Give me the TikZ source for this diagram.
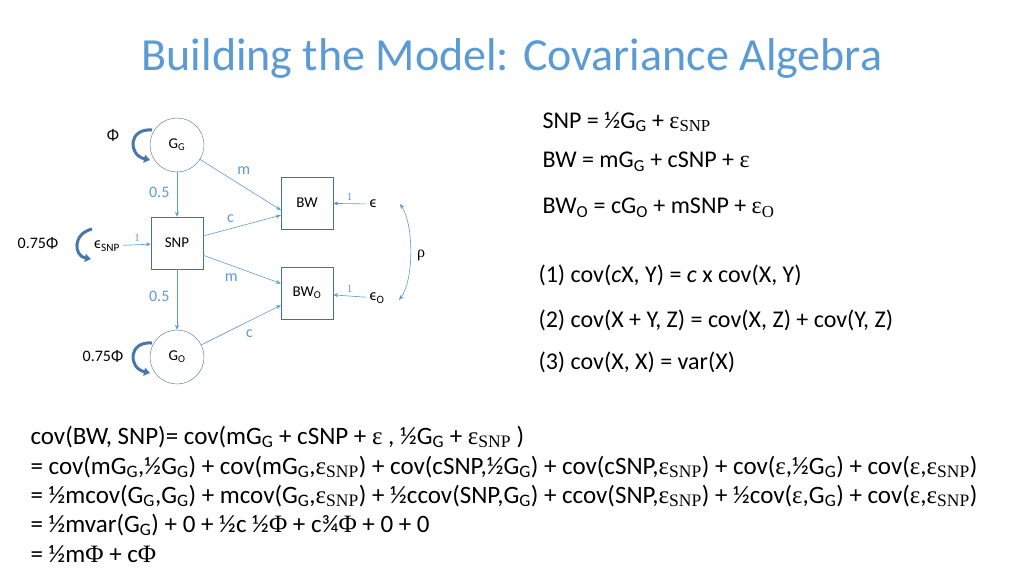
\documentclass[tikz,border=0pt]{standalone}
\usepackage{fontspec}
\setmainfont{Carlito}
\newfontfamily\symb{Liberation Serif}
\usetikzlibrary{arrows.meta,positioning}
\definecolor{titleblue}{HTML}{5B9BD5}
\definecolor{edgeblue}{HTML}{41719C}
\newcommand{\sbs}[1]{\textsubscript{#1}}
\newcommand{\eps}{{\symb ε}}
\newcommand{\phis}{{\symb Φ}}
\newcommand{\epsub}[1]{{\symb ε\textsubscript{#1}}}

\begin{document}
\begin{tikzpicture}[
    x=1pt, y=-1pt,
    latent/.style={circle, draw=edgeblue, minimum size=54pt, inner sep=0pt, font=\fontsize{15}{18}\selectfont},
    observed/.style={draw=edgeblue, minimum size=52pt, inner sep=0pt, font=\fontsize{15}{18}\selectfont},
    lbl/.style={font=\fontsize{16}{18}\selectfont},
    one/.style={font=\fontsize{11}{12}\selectfont\symb},
    patharrow/.style={-{Stealth[length=5pt,width=4pt]}, titleblue, line width=0.6pt},
    varloop/.style={-{Triangle[length=6pt,width=8pt]}, edgeblue!80!titleblue, line width=3pt},
    eqn/.style={anchor=west, font=\fontsize{24}{28}\selectfont},
    line/.style={anchor=west, font=\fontsize{25}{28}\selectfont},
]
    \useasboundingbox (0,0) rectangle (1024,576);
    % Title
    \node[font=\fontsize{46}{52}\selectfont, text=titleblue] (title) at (512,58) {Building the Model: Covariance Algebra};

    % Path diagram
    \node[latent] (gg) at (177,145) {G\sbs{G}};
    \node[observed] (snp) at (177,243) {SNP};
    \node[latent] (go) at (177,357) {G\sbs{O}};
    \node[observed] (bw) at (307,203) {BW};
    \node[observed] (bwo) at (307,293) {BW\sbs{O}};
    \node[lbl] (e) at (373,204) {ϵ};
    \node[lbl] (eo) at (377,298) {ϵ\sbs{O}};
    \node[lbl] (esnp) at (107,246) {ϵ\sbs{SNP}};
    \node[lbl] (rho) at (421,255) {\symb ρ};
    \node[lbl] (phigg) at (113,135) {Φ};
    \node[lbl] (phisnp) at (38,243) {0.75Φ};
    \node[lbl] (phigo) at (103,356) {0.75Φ};

    \draw[patharrow] (gg) -- node[lbl, left=4pt, pos=0.45] {0.5} (snp);
    \draw[patharrow] (snp) -- node[lbl, left=4pt, pos=0.45] {0.5} (go);
    \draw[patharrow] (gg) -- node[lbl, above right=2pt, pos=0.4] {m} (bw.195);
    \draw[patharrow] (snp.15) -- node[lbl, above left=1pt, pos=0.45] {c} (bw.205);
    \draw[patharrow] (snp.-25) -- node[lbl, below left=1pt, pos=0.5] {m} (bwo.160);
    \draw[patharrow] (go) -- node[lbl, below right=2pt, pos=0.5] {c} (bwo.205);
    \draw[patharrow] (e) -- node[one, above] {1} (bw);
    \draw[patharrow] (eo) -- node[one, above] {1} (bwo);
    \draw[patharrow] (esnp) -- node[one, above] {1} (snp);
    \draw[{Stealth[length=5pt,width=4pt]}-{Stealth[length=5pt,width=4pt]}, titleblue, line width=0.6pt]
        (e.east) ++(20,0) coordinate (rtop) .. controls (414,225) and (414,280) .. (399,300) coordinate (rbot);

    % Variance loops
    \draw[varloop] (152,130) .. controls (128,128) and (128,155) .. (150,160);
    \draw[varloop] (92,229) .. controls (72,234) and (74,256) .. (91,259);
    \draw[varloop] (152,343) .. controls (128,341) and (128,368) .. (150,373);

    % Model equations
    \node[eqn] (eq1) at (539,122) {SNP = ½G\sbs{G} + \epsub{SNP}};
    \node[eqn] (eq2) at (539,162) {BW = mG\sbs{G} + cSNP + \eps};
    \node[eqn] (eq3) at (539,208) {BW\sbs{O} = cG\sbs{O} + mSNP + \epsub{O}};
    \node[eqn] (r1) at (535,275) {(1) cov(\textit{c}X, Y) = \textit{c} x cov(X, Y)};
    \node[eqn] (r2) at (535,320) {(2) cov(X + Y, Z) = cov(X, Z) + cov(Y, Z)};
    \node[eqn] (r3) at (535,362) {(3) cov(X, X) = var(X)};

    % Derivation
    \node[line] (d1) at (27,437) {cov(BW, SNP)= cov(mG\sbs{G} + cSNP + \eps\ , ½G\sbs{G} + \epsub{SNP} )};
    \node[line] (d2) at (27,467) {= cov(mG\sbs{G},½G\sbs{G}) + cov(mG\sbs{G},\epsub{SNP}) + cov(cSNP,½G\sbs{G}) + cov(cSNP,\epsub{SNP}) + cov(\eps,½G\sbs{G}) + cov(\eps,\epsub{SNP})};
    \node[line] (d3) at (27,496) {= ½mcov(G\sbs{G},G\sbs{G}) + mcov(G\sbs{G},\epsub{SNP}) + ½ccov(SNP,G\sbs{G}) + ccov(SNP,\epsub{SNP}) + ½cov(\eps,G\sbs{G}) + cov(\eps,\epsub{SNP})};
    \node[line] (d4) at (27,525) {= ½mvar(G\sbs{G}) + 0 + ½c ½\phis{} + c¾\phis{} + 0 + 0};
    \node[line] (d5) at (27,554) {= ½m\phis{} + c\phis};
\end{tikzpicture}
\end{document}
